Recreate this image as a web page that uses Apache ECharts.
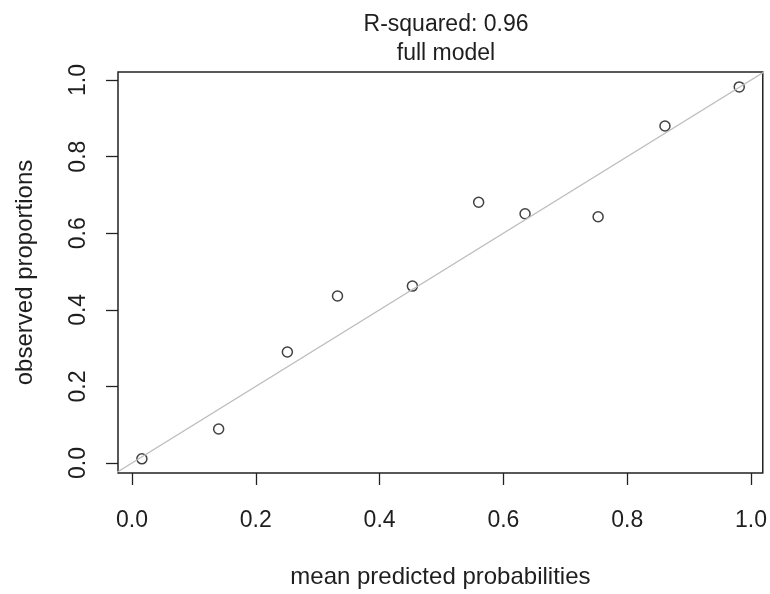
<!DOCTYPE html>
<html>
<head>
    <meta charset="utf-8">
    <title>calibration plot</title>
    <script src="https://cdn.jsdelivr.net/npm/echarts@6/dist/echarts.min.js"></script>
</head>
<body style="margin:0;background:#fff">
    <div id="main" style="width:770px;height:594px;"></div>
    <script>
        // data
        var predicted = [0.016, 0.140, 0.251, 0.332, 0.453, 0.560, 0.635, 0.753, 0.861, 0.981];
        var observed  = [0.011, 0.089, 0.290, 0.436, 0.462, 0.681, 0.651, 0.643, 0.880, 0.982];
        var tickValues = [0, 0.2, 0.4, 0.6, 0.8, 1.0];
        var diagonal = [-0.1, 1.1]; // y = x reference line ends

        var points = predicted.map(function (x, i) { return [x, observed[i]]; });
        var refLine = diagonal.map(function (v) { return [v, v]; });

        var font = 'Liberation Sans, Arial, sans-serif';
        var ink = '#1e1e1e';

        var myChart = echarts.init(document.getElementById('main'));
        var option = {
            backgroundColor: '#fff',
            animation: false,
            title: {
                text: 'R-squared: 0.96\nfull model',
                left: 441,
                textAlign: 'center',
                top: 5,
                textStyle: {
                    fontFamily: font, fontSize: 23, fontWeight: 'normal',
                    color: ink, lineHeight: 29
                }
            },
            grid: {
                left: 118, right: 6, top: 72, bottom: 121,
                show: true, borderColor: '#222', borderWidth: 1.5,
                containLabel: false
            },
            xAxis: {
                type: 'value',
                min: -0.0226, max: 1.019,
                name: 'mean predicted probabilities',
                nameLocation: 'middle',
                nameGap: 92,
                nameTextStyle: { fontFamily: font, fontSize: 24, color: ink },
                axisLine: { show: false, onZero: false },
                splitLine: { show: false },
                axisTick: {
                    show: true, inside: false, length: 12,
                    customValues: tickValues,
                    lineStyle: { color: '#222', width: 1.3 }
                },
                axisLabel: {
                    customValues: tickValues,
                    margin: 36,
                    fontFamily: font, fontSize: 23, color: ink,
                    formatter: function (v) { return v.toFixed(1); }
                }
            },
            yAxis: {
                type: 'value',
                min: -0.026, max: 1.021,
                name: 'observed proportions',
                nameLocation: 'middle',
                nameGap: 81,
                nameTextStyle: { fontFamily: font, fontSize: 24, color: ink },
                axisLine: { show: false, onZero: false },
                splitLine: { show: false },
                axisTick: {
                    show: true, inside: false, length: 12,
                    customValues: tickValues,
                    lineStyle: { color: '#222', width: 1.3 }
                },
                axisLabel: {
                    customValues: tickValues,
                    rotate: 90,
                    margin: 28,
                    fontFamily: font, fontSize: 23, color: ink,
                    formatter: function (v) { return v.toFixed(1); }
                }
            },
            series: [
                {
                    type: 'line',
                    data: refLine,
                    clip: true,
                    symbol: 'none',
                    silent: true,
                    lineStyle: { color: '#bebebe', width: 1.2 }
                },
                {
                    type: 'scatter',
                    data: points,
                    symbol: 'circle',
                    symbolSize: 10,
                    itemStyle: { color: 'rgba(255,255,255,0)', borderColor: '#111', borderWidth: 1.5 }
                }
            ]
        };
        myChart.setOption(option);
    </script>
</body>
</html>
